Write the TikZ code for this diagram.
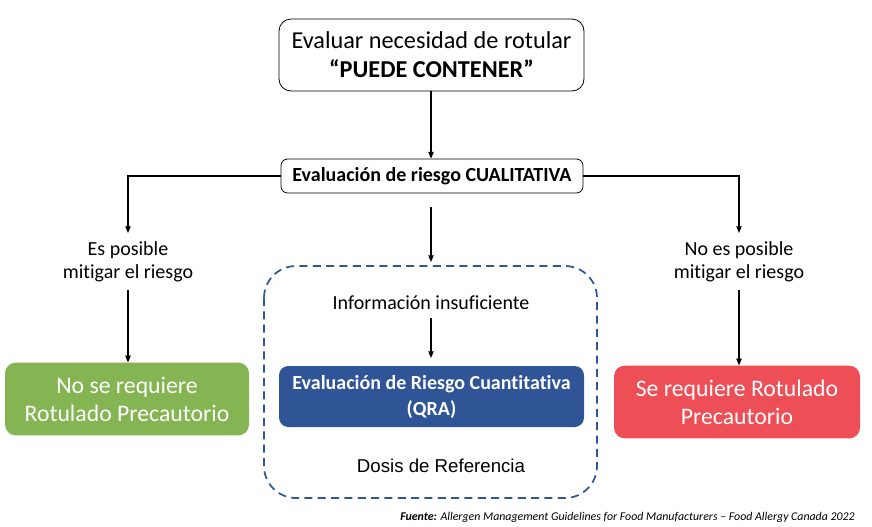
\documentclass[tikz,border=0pt]{standalone}
\usepackage{fontspec}
\setmainfont{Carlito}[Ligatures={NoCommon}]
\newfontfamily\arialf{Liberation Sans}
\usetikzlibrary{arrows.meta}
\definecolor{qgreen}{HTML}{85B553}
\definecolor{qred}{HTML}{EE4E55}
\definecolor{qblue}{HTML}{2F5597}
\begin{document}
\begin{tikzpicture}[x=0.75pt,y=-0.75pt,
  arr/.style={-{Triangle[length=5pt,width=4pt]}, line width=0.9pt},
  topbox/.style={draw, rounded corners=9pt, line width=0.6pt, align=center, inner sep=0pt,
    minimum width=228.75pt, minimum height=54pt, font=\fontsize{18.2}{21.75}\selectfont},
  qualbox/.style={draw, rounded corners=5pt, line width=0.6pt, inner sep=0pt,
    minimum width=226.5pt, minimum height=25.5pt, font=\fontsize{15}{16}\selectfont\bfseries},
  lbl/.style={align=center, inner sep=0pt, font=\fontsize{15}{17.5}\selectfont},
  resbox/.style={rounded corners=8pt, align=center, inner sep=0pt, text=white,
    minimum height=54.5pt, font=\fontsize{17.8}{21}\selectfont},
  qrabox/.style={fill=qblue, rounded corners=7pt, align=center, inner sep=0pt, text=white,
    minimum width=228.75pt, minimum height=45.75pt, font=\fontsize{15}{19.5}\selectfont\bfseries},
  dashbox/.style={draw=qblue, dashed, dash pattern=on 6pt off 4pt, line width=1.3pt, rounded corners=24pt}
]
\useasboundingbox (0,0) rectangle (872,526);

\node[topbox] (top) at (431.5,55) {Evaluar necesidad de rotular\\\textbf{“PUEDE CONTENER”}};
\node[qualbox] (qual) at (432,176) {Evaluación de riesgo CUALITATIVA};

\coordinate (lturn) at (128,176);
\coordinate (rturn) at (739,176);
\coordinate (lend) at (128,233);
\coordinate (rend) at (739,233);
\coordinate (mstart) at (431,207);
\coordinate (mend) at (431,262);
\coordinate (lstart) at (128,290);
\coordinate (rstart) at (739,290);
\coordinate (istart) at (431,318);
\coordinate (iend) at (431,358);

\draw[arr] (top.south -| 431,0) -- (qual.north -| 431,0);
\draw[arr] (qual.west) -- (lturn) -- (lend);
\draw[arr] (qual.east) -- (rturn) -- (rend);
\draw[arr] (mstart) -- (mend);

\node[lbl] (lposs) at (128,261.5) {Es posible\\mitigar el riesgo};
\node[lbl] (rposs) at (739,261.5) {No es posible\\mitigar el riesgo};

\node[resbox, fill=qgreen, minimum width=183pt] (green) at (127,399) {No se requiere\\Rotulado Precautorio};
\node[resbox, fill=qred, minimum width=184.5pt] (red) at (737,402) {Se requiere Rotulado\\Precautorio};

\draw[arr] (lstart) -- (lstart |- green.north);
\draw[arr] (rstart) -- (rstart |- red.north);

\draw[dashbox] (264,266) rectangle (597,498);
\node[lbl] (info) at (431,303) {Información insuficiente};
\node[qrabox] (qra) at (431.5,396.5) {Evaluación de Riesgo Cuantitativa\\(QRA)};
\draw[arr] (istart) -- (iend);
\node[inner sep=0pt, font=\arialf\fontsize{14}{15}\selectfont] (dosis) at (441,466) {Dosis de Referencia};

\node[anchor=east, inner sep=0pt, font=\fontsize{8.9}{11}\selectfont\itshape] (src) at (855,517)
  {\textbf{Fuente:} Allergen Management Guidelines for Food Manufacturers – Food Allergy Canada 2022};
\end{tikzpicture}
\end{document}
